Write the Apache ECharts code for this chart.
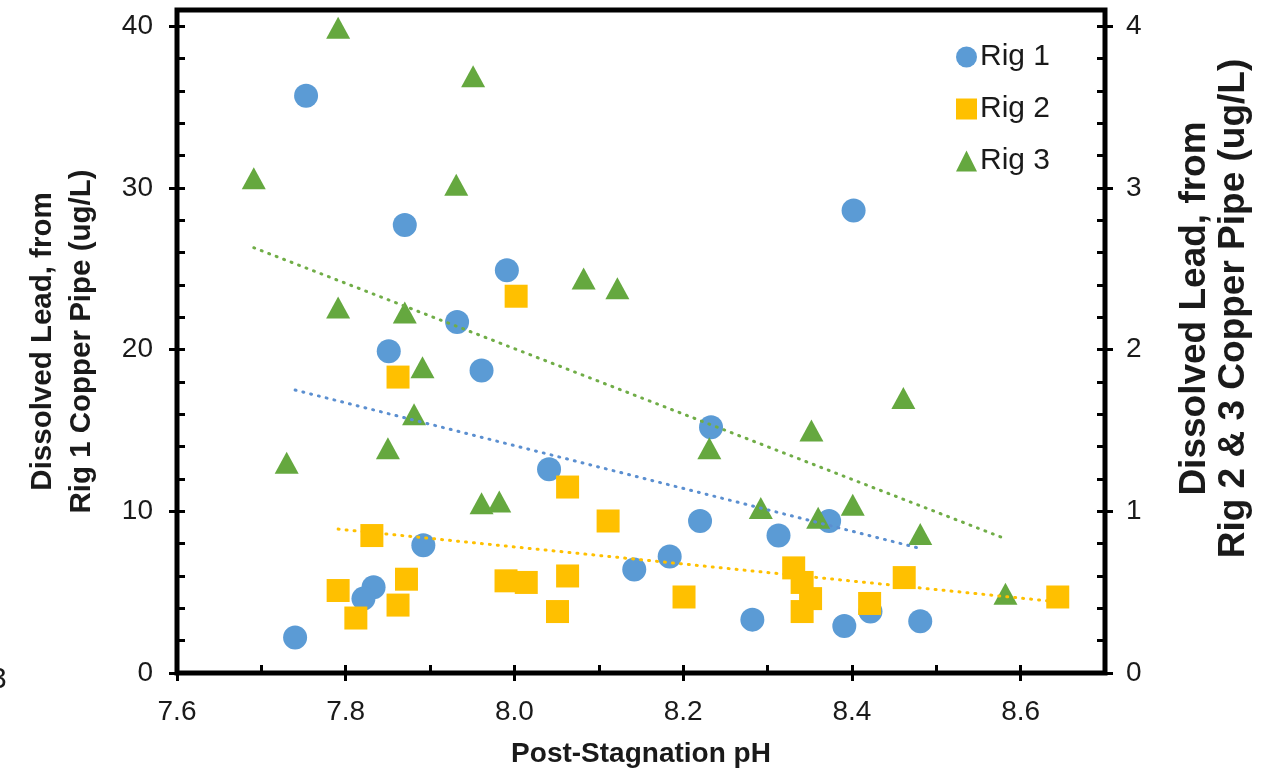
<!DOCTYPE html>
<html>
<head>
<meta charset="utf-8">
<script src="https://cdn.jsdelivr.net/npm/echarts@6/dist/echarts.min.js"></script>
<style>
html, body { margin: 0; padding: 0; background: #fff; }
#chart { width: 1274px; height: 776px; }
</style>
</head>
<body>
<div id="chart"></div>
<script>
// [pH, dissolved lead ug/L] – Rig 1 on the left axis
const rig1 = [
  [7.740, 2.2], [7.753, 35.7], [7.870, 27.7], [7.851, 19.9], [7.932, 21.7],
  [7.961, 18.7], [7.991, 24.9], [8.041, 12.6], [8.233, 15.2], [8.402, 28.6],
  [8.220, 9.4], [8.184, 7.2], [8.142, 6.4], [8.313, 8.5], [8.373, 9.4],
  [7.892, 7.9], [7.833, 5.3], [7.821, 4.6], [8.282, 3.3], [8.391, 2.9],
  [8.422, 3.8], [8.481, 3.2]
];
// Rig 2 and Rig 3 on the right axis
const rig2 = [
  [7.791, 0.51], [7.812, 0.34], [7.831, 0.85], [7.872, 0.58], [7.862, 0.42],
  [7.862, 1.83], [8.002, 2.33], [7.990, 0.57], [8.014, 0.56], [8.063, 1.15],
  [8.111, 0.94], [8.063, 0.60], [8.051, 0.38], [8.201, 0.47], [8.331, 0.65],
  [8.341, 0.56], [8.351, 0.46], [8.341, 0.38], [8.462, 0.59], [8.421, 0.43],
  [8.644, 0.47]
];
const rig3 = [
  [7.791, 3.99], [7.691, 3.06], [7.951, 3.69], [7.931, 3.02], [7.791, 2.26],
  [7.870, 2.23], [7.891, 1.89], [7.881, 1.60], [7.850, 1.39], [7.730, 1.30],
  [7.961, 1.05], [7.982, 1.06], [8.082, 2.44], [8.122, 2.38], [8.231, 1.39],
  [8.352, 1.50], [8.292, 1.02], [8.360, 0.96], [8.401, 1.04], [8.481, 0.86],
  [8.582, 0.49], [8.461, 1.70]
];
// linear trendlines, ends
const rig1Trend = [[7.740, 17.5], [8.481, 7.7]];
const rig2Trend = [[7.791, 0.89], [8.644, 0.44]];
const rig3Trend = [[7.691, 2.63], [8.582, 0.83]];

const xTickLabels = [7.6, 7.8, 8.0, 8.2, 8.4, 8.6];
const leftTickLabels = [0, 10, 20, 30, 40];
const rightTickLabels = [0, 1, 2, 3, 4];

const ink = '#1a1a1a';
const fontFamily = '"Liberation Sans", Arial, sans-serif';
const tickStyle = { color: '#000', width: 3 };
const labelStyle = { fontSize: 28, color: ink, fontFamily: fontFamily };

const option = {
  animation: false,
  grid: {
    left: 177,
    right: 169,
    top: 10,
    bottom: 103,
    show: true,
    borderColor: '#000',
    borderWidth: 5,
    containLabel: false,
    outerBoundsMode: 'none'
  },
  legend: {
    data: ['Rig 1', 'Rig 2', 'Rig 3'],
    orient: 'vertical',
    left: 951,
    top: 37,
    itemWidth: 21,
    itemHeight: 21,
    itemGap: 22,
    textStyle: { fontSize: 30, color: ink, fontFamily: fontFamily, padding: [0, 0, 0, -2] }
  },
  graphic: [
    { type: 'text', x: -10, y: 665, style: { text: '3', fontSize: 30, fill: ink, fontFamily: fontFamily } }
  ],
  xAxis: [
    {
      type: 'value', position: 'bottom', min: 7.6, max: 8.7, interval: 0.1,
      axisLine: { show: false },
      axisTick: { inside: true, length: 8, lineStyle: tickStyle },
      axisLabel: { show: false },
      splitLine: { show: false }
    },
    {
      type: 'value', position: 'bottom', min: 7.6, max: 8.7, interval: 0.2,
      axisLine: { show: false },
      axisTick: { length: 8, lineStyle: tickStyle, customValues: xTickLabels },
      axisLabel: Object.assign({ customValues: xTickLabels, margin: 25, formatter: v => v.toFixed(1) }, labelStyle),
      splitLine: { show: false },
      name: 'Post-Stagnation pH',
      nameLocation: 'middle',
      nameGap: 67,
      nameTextStyle: { fontSize: 28, fontWeight: 'bold', color: ink, fontFamily: fontFamily }
    }
  ],
  yAxis: [
    {
      type: 'value', position: 'left', min: 0, max: 41, interval: 2,
      axisLine: { show: false },
      axisTick: { inside: true, length: 8, lineStyle: tickStyle },
      axisLabel: { show: false },
      splitLine: { show: false }
    },
    {
      type: 'value', position: 'left', min: 0, max: 41, interval: 10,
      axisLine: { show: false },
      axisTick: { length: 8, lineStyle: tickStyle, customValues: leftTickLabels },
      axisLabel: Object.assign({ customValues: leftTickLabels, margin: 24 }, labelStyle),
      splitLine: { show: false },
      name: 'Dissolved Lead, from\nRig 1 Copper Pipe (ug/L)',
      nameLocation: 'middle',
      nameGap: 76,
      nameTextStyle: { fontSize: 29.5, fontWeight: 'bold', color: ink, fontFamily: fontFamily, lineHeight: 39 }
    },
    {
      type: 'value', position: 'right', min: 0, max: 4.1, interval: 0.2,
      axisLine: { show: false },
      axisTick: { inside: true, length: 8, lineStyle: tickStyle },
      axisLabel: { show: false },
      splitLine: { show: false }
    },
    {
      type: 'value', position: 'right', min: 0, max: 4.1, interval: 1,
      axisLine: { show: false },
      axisTick: { length: 8, lineStyle: tickStyle, customValues: rightTickLabels },
      axisLabel: Object.assign({ customValues: rightTickLabels, margin: 21 }, labelStyle),
      splitLine: { show: false },
      name: 'Dissolved Lead, from\nRig 2 & 3 Copper Pipe (ug/L)',
      nameLocation: 'middle',
      nameGap: 70,
      nameTextStyle: { fontSize: 37, fontWeight: 'bold', color: ink, fontFamily: fontFamily, lineHeight: 39, padding: [0, 0, 0, 66] }
    }
  ],
  series: [
    {
      name: 'Rig 1', type: 'scatter', xAxisIndex: 0, yAxisIndex: 0,
      data: rig1, symbol: 'circle', symbolSize: 24, z: 3,
      itemStyle: { color: '#5B9BD5', opacity: 1 }
    },
    {
      name: 'Rig 2', type: 'scatter', xAxisIndex: 0, yAxisIndex: 2,
      data: rig2, symbol: 'rect', symbolSize: 23, z: 4,
      itemStyle: { color: '#FFC000', opacity: 1 }
    },
    {
      name: 'Rig 3', type: 'scatter', xAxisIndex: 0, yAxisIndex: 2,
      data: rig3, symbol: 'triangle', symbolSize: [24, 22], z: 5,
      itemStyle: { color: '#65A83F', opacity: 1 }
    },
    {
      name: 'Rig 1 trend', type: 'line', xAxisIndex: 0, yAxisIndex: 0,
      data: rig1Trend, symbol: 'none', silent: true, z: 6,
      lineStyle: { color: '#5B8FD0', width: 3, type: [1, 7], cap: 'round' }
    },
    {
      name: 'Rig 2 trend', type: 'line', xAxisIndex: 0, yAxisIndex: 2,
      data: rig2Trend, symbol: 'none', silent: true, z: 6,
      lineStyle: { color: '#FFC000', width: 3, type: [1, 7], cap: 'round' }
    },
    {
      name: 'Rig 3 trend', type: 'line', xAxisIndex: 0, yAxisIndex: 2,
      data: rig3Trend, symbol: 'none', silent: true, z: 6,
      lineStyle: { color: '#70AD47', width: 3, type: [1, 7], cap: 'round' }
    }
  ]
};

const myChart = echarts.init(document.getElementById('chart'));
myChart.setOption(option);
</script>
</body>
</html>
